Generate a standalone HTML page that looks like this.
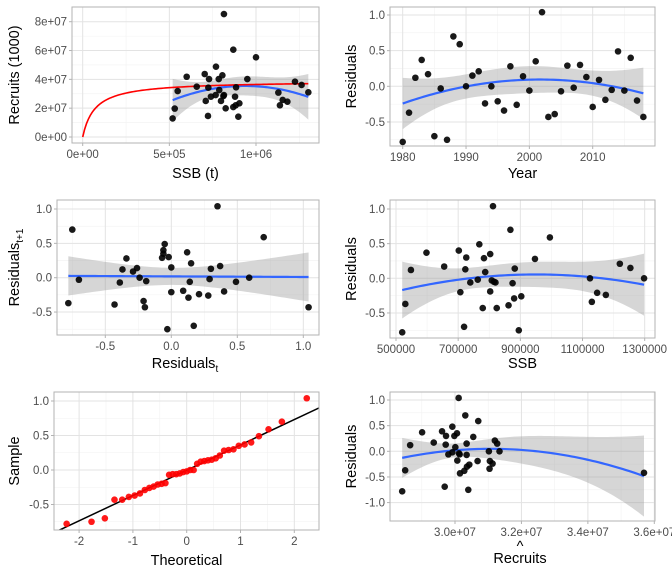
<!DOCTYPE html>
<html><head><meta charset="utf-8"><style>
body{margin:0;background:#fff}
svg{display:block;font-family:"Liberation Sans",sans-serif}
.tk{fill:#4d4d4d;font-size:11.5px}
.ttl{fill:#000;font-size:14.5px}
</style></head><body>
<svg id="chart" width="672" height="576" viewBox="0 0 672 576"></svg>
<script>
// ---- data ----
const years = [1980,1981,1982,1983,1984,1985,1986,1987,1988,1989,1990,1991,1992,1993,1994,1995,1996,1997,1998,1999,2000,2001,2002,2003,2004,2005,2006,2007,2008,2009,2010,2011,2012,2013,2014,2015,2016,2017,2018];
const residuals = [-0.78,-0.37,0.12,0.37,0.17,-0.70,-0.03,-0.75,0.70,0.59,0.00,0.15,0.21,-0.24,0.00,-0.21,-0.34,0.28,-0.26,0.14,-0.06,0.35,1.04,-0.43,-0.39,-0.07,0.29,-0.02,0.30,0.13,-0.29,0.09,-0.19,-0.05,0.49,-0.06,0.40,-0.20,-0.43];
const ssbByYear = [520e3,530e3,548e3,598e3,655e3,719e3,808e3,895e3,868e3,995e3,1298e3,1254e3,1220e3,1175e3,1124e3,1147e3,1130e3,947e3,903e3,882e3,739e3,803e3,812e3,779e3,862e3,875e3,783e3,763e3,726e3,723e3,880e3,787e3,803e3,815e3,768e3,820e3,702e3,707e3,824e3];
const srSsb = [519e3,531e3,548e3,600e3,658e3,704e3,710e3,723e3,729e3,725e3,740e3,767e3,769e3,785e3,788e3,806e3,798e3,812e3,815e3,825e3,815e3,869e3,869e3,879e3,885e3,883e3,898e3,904e3,950e3,1000e3,1129e3,1138e3,1154e3,1181e3,1225e3,1263e3,1302e3];
const srRec = [1.29e7,1.97e7,3.19e7,4.18e7,3.49e7,4.37e7,2.50e7,1.46e7,4.02e7,3.42e7,2.80e7,2.91e7,4.88e7,4.02e7,3.26e7,4.28e7,2.50e7,2.84e7,8.53e7,1.99e7,2.91e7,6.06e7,2.08e7,2.80e7,3.45e7,2.20e7,1.41e7,2.34e7,4.02e7,5.53e7,3.08e7,2.20e7,2.57e7,2.45e7,3.84e7,3.61e7,3.10e7];
const bhA = 3.9e7, bhB = 7.0e4;
const recHat = [28.41e6,28.50e6,28.65e6,29.01e6,29.36e6,29.61e6,29.69e6,29.73e6,29.72e6,29.80e6,29.92e6,29.92e6,29.98e6,30.01e6,30.06e6,30.07e6,30.11e6,30.12e6,30.14e6,30.15e6,30.28e6,30.31e6,30.35e6,30.35e6,30.36e6,30.40e6,30.43e6,30.55e6,30.68e6,30.70e6,31.02e6,31.04e6,31.05e6,31.13e6,31.20e6,31.27e6,31.34e6,35.69e6];
const recHatResid = [-0.78,-0.37,0.12,0.37,0.17,0.39,-0.69,0.30,0.13,-0.06,0.48,-0.02,0.30,0.08,0.35,-0.18,1.04,-0.04,-0.06,-0.43,-0.38,0.70,0.15,-0.07,-0.30,-0.75,-0.26,0.28,-0.19,0.59,0.00,-0.34,-0.19,-0.24,0.21,0.15,0.00,-0.42];
const p1XTicks=[0,5e5,1e6], p1XLabels=["0e+00","5e+05","1e+06"];
const p1YTicks=[0,2e7,4e7,6e7,8e7], p1YLabels=["0e+00","2e+07","4e+07","6e+07","8e+07"];
const resYTicks=[-0.5,0,0.5,1.0], resYLabels=["-0.5","0.0","0.5","1.0"];

const svg=document.getElementById('chart');
const NS='http://www.w3.org/2000/svg';
function mk(tag,attrs,parent){const e=document.createElementNS(NS,tag);for(const k in attrs)e.setAttribute(k,attrs[k]);(parent||svg).appendChild(e);return e;}

// linear maps from two reference points
function lin(d0,p0,d1,p1){const f=v=>p0+(v-d0)*(p1-p0)/(d1-d0);f.inv=p=>d0+(p-p0)*(d1-d0)/(p1-p0);return f;}

// polynomial OLS with standard errors
function polyFit(xs,ys,deg){
  const n=xs.length,m=xs.reduce((a,b)=>a+b,0)/n;
  const sd=Math.sqrt(xs.reduce((a,b)=>a+(b-m)*(b-m),0)/n)||1;
  const row=x=>{const z=(x-m)/sd,r=[];for(let k=0;k<=deg;k++)r.push(Math.pow(z,k));return r;};
  const p=deg+1;const A=[];for(let i=0;i<p;i++){A.push(new Array(2*p).fill(0));A[i][p+i]=1;}
  const Xy=new Array(p).fill(0);
  xs.forEach((x,i)=>{const r=row(x);for(let a=0;a<p;a++){Xy[a]+=r[a]*ys[i];for(let b=0;b<p;b++)A[a][b]+=r[a]*r[b];}});
  for(let c=0;c<p;c++){let piv=c;for(let r=c+1;r<p;r++)if(Math.abs(A[r][c])>Math.abs(A[piv][c]))piv=r;[A[c],A[piv]]=[A[piv],A[c]];
    const d=A[c][c];for(let k=0;k<2*p;k++)A[c][k]/=d;
    for(let r=0;r<p;r++)if(r!==c){const f=A[r][c];for(let k=0;k<2*p;k++)A[r][k]-=f*A[c][k];}}
  const inv=A.map(r=>r.slice(p));
  const beta=inv.map(r=>r.reduce((s,v,j)=>s+v*Xy[j],0));
  let sse=0;xs.forEach((x,i)=>{const r=row(x);const f=r.reduce((s,v,j)=>s+v*beta[j],0);sse+=(ys[i]-f)**2;});
  const s2=sse/(n-p);
  return x=>{const r=row(x);const f=r.reduce((s,v,j)=>s+v*beta[j],0);let q=0;for(let a=0;a<p;a++)for(let b=0;b<p;b++)q+=r[a]*inv[a][b]*r[b];return [f,Math.sqrt(s2*q)];};
}
function qnorm(p){const a=[-39.6968302866538,220.946098424521,-275.928510446969,138.357751867269,-30.6647980661472,2.50662827745924],b=[-54.4760987982241,161.585836858041,-155.698979859887,66.8013118877197,-13.2806815528857],c=[-0.00778489400243029,-0.322396458041136,-2.40075827716184,-2.54973253934373,4.37466414146497,2.93816398269878],d=[0.00778469570904146,0.32246712907004,2.445134137143,3.75440866190742],pl=0.02425;let q,r;
  if(p<pl){q=Math.sqrt(-2*Math.log(p));return(((((c[0]*q+c[1])*q+c[2])*q+c[3])*q+c[4])*q+c[5])/((((d[0]*q+d[1])*q+d[2])*q+d[3])*q+1);}
  if(p>1-pl){q=Math.sqrt(-2*Math.log(1-p));return-(((((c[0]*q+c[1])*q+c[2])*q+c[3])*q+c[4])*q+c[5])/((((d[0]*q+d[1])*q+d[2])*q+d[3])*q+1);}
  q=p-0.5;r=q*q;return(((((a[0]*r+a[1])*r+a[2])*r+a[3])*r+a[4])*r+a[5])*q/(((((b[0]*r+b[1])*r+b[2])*r+b[3])*r+b[4])*r+1);}

let clipId=0;
function panel(name,box,xs,ys,xt,xl,yt,yl,xminor,yminor){
  const g=mk('g',{});
  
  
  const id='clip'+(clipId++);
  const cp=mk('clipPath',{id:id},g);mk('rect',{x:box.l,y:box.t,width:box.r-box.l,height:box.b-box.t},cp);
  const grid=mk('g',{},g);
  
  
  xminor.forEach(v=>mk('line',{x1:xs(v),x2:xs(v),y1:box.t,y2:box.b,stroke:'#f2f2f2','stroke-width':0.6},grid));
  yminor.forEach(v=>mk('line',{y1:ys(v),y2:ys(v),x1:box.l,x2:box.r,stroke:'#f2f2f2','stroke-width':0.6},grid));
  xt.forEach(v=>mk('line',{x1:xs(v),x2:xs(v),y1:box.t,y2:box.b,stroke:'#e3e3e3','stroke-width':1},grid));
  yt.forEach(v=>mk('line',{y1:ys(v),y2:ys(v),x1:box.l,x2:box.r,stroke:'#e3e3e3','stroke-width':1},grid));
  const xa=mk('g',{},g);
  
  
  xt.forEach((v,i)=>{mk('line',{x1:xs(v),x2:xs(v),y1:box.b,y2:box.b+3,stroke:'#b3b3b3'},xa);
    const t=mk('text',{x:xs(v),y:box.b+15,'text-anchor':'middle',class:'tk'},xa);t.textContent=xl[i];});
  const ya=mk('g',{},g);
  
  
  yt.forEach((v,i)=>{mk('line',{x1:box.l-3,x2:box.l,y1:ys(v),y2:ys(v),stroke:'#b3b3b3'},ya);
    const t=mk('text',{x:box.l-5,y:ys(v)+4,'text-anchor':'end',class:'tk'},ya);t.textContent=yl[i];});
  const plot=mk('g',{'clip-path':'url(#'+id+')'},g);
  mk('rect',{x:box.l,y:box.t,width:box.r-box.l,height:box.b-box.t,fill:'none',stroke:'#b3b3b3','stroke-width':1},g);
  return plot;
}
function smooth(plot,name,xsD,ysD,xs,ys,deg){
  const f=polyFit(xsD,ysD,deg);const lo=Math.min(...xsD),hi=Math.max(...xsD);
  const up=[],dn=[],mid=[];
  for(let i=0;i<=80;i++){const x=lo+(hi-lo)*i/80;const [m,s]=f(x);mid.push(xs(x)+','+ys(m));up.push(xs(x)+','+ys(m+2.03*s));dn.push(xs(x)+','+ys(m-2.03*s));}
  const band=mk('polygon',{points:up.concat(dn.reverse()).join(' '),fill:'#999999','fill-opacity':0.4},plot);
  
  
  const ln=mk('polyline',{points:mid.join(' '),fill:'none',stroke:'#3366FF','stroke-width':2.2},plot);
  
  
}
function points(plot,name,xd,yd,xs,ys,color){
  xd.forEach((x,i)=>{const c=mk('circle',{cx:xs(x),cy:ys(yd[i]),r:3.3,fill:color,'fill-opacity':0.9},plot);
    
    });
}
function title(txt,x,y,rot,name,sub,hat){
  const t=mk('text',{x:x,y:y,'text-anchor':'middle',class:'ttl'});
  if(rot)t.setAttribute('transform','rotate(-90 '+x+' '+y+')');
  
  
  t.appendChild(document.createTextNode(txt));
  if(sub){const s=mk('tspan',{'font-size':'10px',dy:4},t);s.textContent=sub;}
  if(hat){const h=mk('text',{x:x,y:y-12,'text-anchor':'middle',class:'ttl','font-size':'12px'});h.textContent='^';
    
    }
}

// Panel 1: stock-recruit
{const box={l:72,r:319,t:7,b:143};const xs=lin(0,82.7,1e6,256),ys=lin(0,137,8e7,21.7);
 const p=panel('stock-recruit-panel',box,xs,ys,p1XTicks,p1XLabels,p1YTicks,p1YLabels,[2.5e5,7.5e5,1.25e6],[1e7,3e7,5e7,7e7]);
 smooth(p,'stock-recruit',srSsb,srRec,xs,ys,2);
 const pts=[];const mx=Math.max(...srSsb);for(let i=0;i<=120;i++){const s=mx*i/120;pts.push(xs(s)+','+ys(bhA*s/(bhB+s)));}
 const bh=mk('polyline',{points:pts.join(' '),fill:'none',stroke:'#ff0000','stroke-width':1.6},p);
 
 
 points(p,'stock-recruit',srSsb,srRec,xs,ys,'#000');
 title('SSB (t)',195.5,178,false,'x-axis-title-ssb-t');title('Recruits (1000)',19,75,true,'y-axis-title-recruits');}
// Panel 2: residuals by year
{const box={l:390,r:655,t:7,b:146};const xs=lin(1980,402.7,2010,592.7),ys=lin(0,86.3,1,15);
 const p=panel('residuals-year-panel',box,xs,ys,[1980,1990,2000,2010],['1980','1990','2000','2010'],resYTicks,resYLabels,[1985,1995,2005,2015],[-0.75,-0.25,0.25,0.75]);
 smooth(p,'residuals-year',years,residuals,xs,ys,2);points(p,'residuals-year',years,residuals,xs,ys,'#000');
 title('Year',522.5,178,false,'x-axis-title-year');title('Residuals',356,76.5,true,'y-axis-title-residuals-year');}
// Panel 3: lag-1 residuals
{const box={l:57,r:319,t:200,b:335};const xs=lin(0,171.3,1,303.3),ys=lin(0,277.7,1,209);
 const xt=residuals.slice(0,-1),yt1=residuals.slice(1);
 const p=panel('lag-residuals-panel',box,xs,ys,[-0.5,0,0.5,1.0],['-0.5','0.0','0.5','1.0'],resYTicks,resYLabels,[-0.75,-0.25,0.25,0.75],[-0.75,-0.25,0.25,0.75]);
 smooth(p,'lag-residuals',xt,yt1,xs,ys,1);points(p,'lag-residuals',xt,yt1,xs,ys,'#000');
 title('Residuals',185,368,false,'x-axis-title-residuals-t','t');title('Residuals',19,267.5,true,'y-axis-title-residuals-t1','t+1');}
// Panel 4: residuals vs SSB
{const box={l:390,r:655,t:200,b:338};const xs=lin(5e5,396,1.3e6,644.7),ys=lin(0,278.3,1,209);
 const p=panel('residuals-ssb-panel',box,xs,ys,[5e5,7e5,9e5,1.1e6,1.3e6],['500000','700000','900000','1100000','1300000'],resYTicks,resYLabels,[6e5,8e5,1e6,1.2e6],[-0.75,-0.25,0.25,0.75]);
 smooth(p,'residuals-ssb',ssbByYear,residuals,xs,ys,2);points(p,'residuals-ssb',ssbByYear,residuals,xs,ys,'#000');
 title('SSB',522.5,368,false,'x-axis-title-ssb');title('Residuals',356,269,true,'y-axis-title-residuals-ssb');}
// Panel 5: QQ plot
{const box={l:54,r:319,t:392,b:530};const xs=lin(0,186.7,2,294.3),ys=lin(0,470,1,401);
 const sorted=residuals.slice().sort((a,b)=>a-b);const n=sorted.length;const theo=sorted.map((v,i)=>qnorm((i+0.5)/n));
 const p=panel('qq-panel',box,xs,ys,[-2,-1,0,1,2],['-2','-1','0','1','2'],resYTicks,resYLabels,[-1.5,-0.5,0.5,1.5],[-0.75,-0.25,0.25,0.75]);
 const quant=(arr,q)=>{const h=(arr.length-1)*q,lo=Math.floor(h);return arr[lo]+(h-lo)*(arr[lo+1]-arr[lo]);};
 const y1=quant(sorted,0.25),y2=quant(sorted,0.75),x1=qnorm(0.25),x2=qnorm(0.75);const sl=(y2-y1)/(x2-x1),ic=y1-sl*x1;
 const ql=mk('line',{x1:xs(-3),y1:ys(ic-3*sl),x2:xs(3),y2:ys(ic+3*sl),stroke:'#000','stroke-width':1.5},p);
 
 
 points(p,'qq',theo,sorted,xs,ys,'#ff0000');
 title('Theoretical',186.5,565,false,'x-axis-title-theoretical');title('Sample',19,461,true,'y-axis-title-sample');}
// Panel 6: residuals vs predicted recruits
{const box={l:390,r:655,t:392,b:521};const xs=lin(3e7,455,3.6e7,654.3),ys=lin(0,451.3,1,400);
 const p=panel('residuals-recruits-panel',box,xs,ys,[3e7,3.2e7,3.4e7,3.6e7],['3.0e+07','3.2e+07','3.4e+07','3.6e+07'],[-1,-0.5,0,0.5,1],['-1.0','-0.5','0.0','0.5','1.0'],[2.9e7,3.1e7,3.3e7,3.5e7],[-0.75,-0.25,0.25,0.75]);
 smooth(p,'residuals-recruits',recHat,recHatResid,xs,ys,2);points(p,'residuals-recruits',recHat,recHatResid,xs,ys,'#000');
 title('Recruits',520,563,false,'x-axis-title-recruits-hat',null,true);title('Residuals',356,456.5,true,'y-axis-title-residuals-recruits');}
</script>
</body></html>
